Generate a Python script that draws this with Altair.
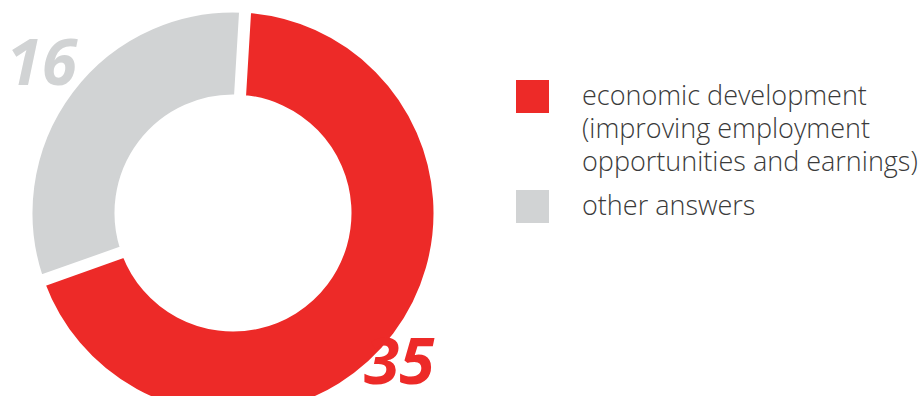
import altair as alt
import pandas as pd

categories = [
    "economic development\n(improving employment\nopportunities and earnings)",
    "other answers",
]
values = [35, 16]
order = [0, 1]
colors = ["#ED2A28", "#D1D3D4"]

df = pd.DataFrame({"category": categories, "value": values, "order": order})

start = 0.06
theta_scale = alt.Scale(range=[start, start + 6.283185307])
color_scale = alt.Scale(domain=categories, range=colors)

base = alt.Chart(df)

arcs = base.mark_arc(
    x=233, y=213, radius=203, radius2=116, stroke="white", strokeWidth=5,
    padAngle=0.03
).encode(
    theta=alt.Theta("value:Q", stack=True, scale=theta_scale),
    order=alt.Order("order:Q"),
    color=alt.Color(
        "category:N",
        scale=color_scale,
        legend=alt.Legend(
            orient="none",
            legendX=516,
            legendY=80,
            title=None,
            symbolType="square",
            symbolSize=1089,
            symbolStrokeWidth=0,
            labelFont="Open Sans",
            labelFontSize=27,
            labelFontWeight=300,
            labelColor="#3a3a3a",
            labelOffset=33,
            labelLimit=600,
            rowPadding=14,
            labelExpr="split(datum.label, '\\n')",
        ),
    ),
)

labels = base.mark_text(
    x=232, y=206, radius=232, font="Open Sans", fontSize=64,
    fontStyle="italic", fontWeight="bold", align="center", baseline="middle",
    dx=alt.expr("datum.order == 0 ? -18 : -5"),
    dy=alt.expr("datum.order == 0 ? 19 : 0"),
).encode(
    theta=alt.Theta("value:Q", stack=True, scale=theta_scale),
    order=alt.Order("order:Q"),
    text=alt.Text("value:Q"),
    color=alt.Color("category:N", scale=color_scale, legend=None),
)

chart = alt.layer(arcs, labels).properties(
    width=921, height=396, padding=0, autosize="none"
).configure_view(stroke=None).configure(
    style={"guide-label": {"lineHeight": 33}}
)

chart.save("out.html", embed_options={"renderer": "svg", "actions": False})
